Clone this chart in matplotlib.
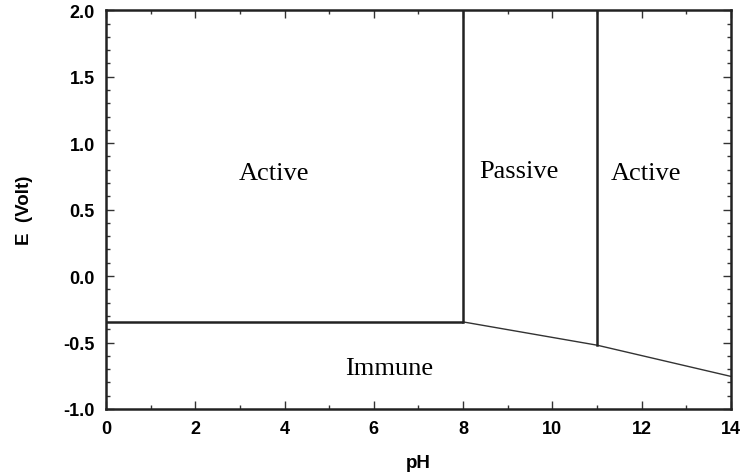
import matplotlib
matplotlib.use("Agg")
import matplotlib.pyplot as plt
from matplotlib.ticker import MultipleLocator

# Pourbaix-type diagram: E (V) vs pH
immune_ph = [0, 8]            # horizontal immune/active boundary
immune_E = [-0.345, -0.345]
slope_ph = [8, 11, 14]        # sloped immune boundary
slope_E = [-0.345, -0.52, -0.755]
passive_ph = [8, 11]          # vertical passive-zone limits
E_top = 2.0

regions = ["Active", "Passive", "Active", "Immune"]
region_ph = [3.77, 9.25, 12.1, 6.35]
region_E = [0.73, 0.745, 0.73, -0.74]

xticks = [0, 2, 4, 6, 8, 10, 12, 14]
yticks = [-1.0, -0.5, 0.0, 0.5, 1.0, 1.5, 2.0]

fig = plt.figure(figsize=(7.44, 4.77), dpi=100)
ax = fig.add_axes([0.1425, 0.1405, 0.84, 0.836])

ax.plot(immune_ph, immune_E, color="#222222", lw=1.8, solid_capstyle="butt")
ax.plot(slope_ph, slope_E, color="#333333", lw=1.0)
ax.plot([passive_ph[0]] * 2, [immune_E[-1], E_top], color="#222222", lw=1.8)
ax.plot([passive_ph[1]] * 2, [slope_E[1], E_top], color="#222222", lw=1.8)

for name, x, y in zip(regions, region_ph, region_E):
    ax.text(x, y, name, ha="center", va="baseline", fontsize=19,
            family="Liberation Serif", color="black")

ax.set_xlim(0, 14)
ax.set_ylim(-1, 2)
ax.set_xticks(xticks)
ax.set_yticks(yticks)
ax.set_xticklabels([str(t) for t in xticks])
ax.set_yticklabels([f"{t:.1f}" for t in yticks])
ax.xaxis.set_minor_locator(MultipleLocator(1))
ax.yaxis.set_minor_locator(MultipleLocator(0.1))
ax.tick_params(which="major", direction="in", length=6, width=1, color="#333333",
               labelsize=13, pad=8)
ax.tick_params(which="minor", direction="in", length=3, width=1, color="#333333")
ax.tick_params(top=True, right=True, which="both")
for lab in ax.get_xticklabels() + ax.get_yticklabels():
    lab.set_fontfamily("Liberation Sans")
    lab.set_fontweight("bold")
for sp in ax.spines.values():
    sp.set_linewidth(1.8)
    sp.set_color("#222222")

ax.set_xlabel("pH", fontsize=13.5, fontweight="bold", family="Liberation Sans", labelpad=12)
ax.set_ylabel("E  (Volt)", fontsize=13.5, fontweight="bold", family="Liberation Sans", labelpad=22)

fig.savefig("out.png", dpi=100)
